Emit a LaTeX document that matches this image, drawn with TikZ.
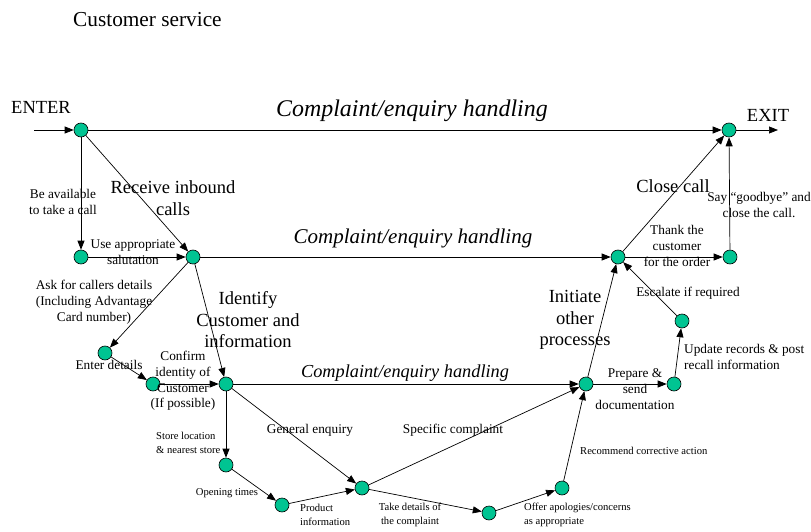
\documentclass[tikz,border=0pt]{standalone}
\usepackage{fontspec}
\setmainfont{Liberation Serif}
\usetikzlibrary{arrows.meta}
\definecolor{stepgreen}{RGB}{0,196,146}

\begin{document}
\begin{tikzpicture}[x=1pt,y=-1pt,
        pt/.style={circle,draw=black,fill=stepgreen,inner sep=0pt,minimum size=14pt,line width=0.6pt},
        flow/.style={-{Triangle[length=9pt,width=7pt]},line width=0.7pt},
        biglbl/.style={font=\fontsize{18.5}{21.5}\selectfont,align=center,inner sep=0pt},
        midlbl/.style={font=\fontsize{13.3}{15.8}\selectfont,align=center,inner sep=0pt},
        smalllbl/.style={font=\fontsize{10.6}{13.6}\selectfont,align=left,inner sep=0pt},
        handlbl/.style={font=\itshape\fontsize{#1}{#1}\selectfont,anchor=base,inner sep=0pt}]
        \useasboundingbox (0,0) rectangle (811,532);
        \node[pt] (enter) at (81,130) {};
        \node[pt] (exit) at (729,130) {};
        \node[pt] (avail) at (81,257) {};
        \node[pt] (salut) at (193,257) {};
        \node[pt] (details) at (105,353) {};
        \node[pt] (confirm) at (153,384) {};
        \node[pt] (ident) at (226,384) {};
        \node[pt] (store) at (226,465) {};
        \node[pt] (product) at (282,505) {};
        \node[pt] (general) at (362,488) {};
        \node[pt] (complaint) at (489,513) {};
        \node[pt] (apology) at (562,488) {};
        \node[pt] (other) at (586,384) {};
        \node[pt] (prepare) at (674,384) {};
        \node[pt] (update) at (682,321) {};
        \node[pt] (close) at (618,257) {};
        \node[pt] (thank) at (730,257) {};
        \coordinate (in) at (34,130);
        \coordinate (out) at (778,130);
        \draw[flow] (in) -- (enter);
        \draw[flow] (enter) -- (exit);
        \draw[flow] (exit) -- (out);
        \draw[flow] (enter) -- (avail);
        \draw[flow] (enter) -- (salut);
        \draw[flow] (avail) -- (salut);
        \draw[flow] (salut) -- (close);
        \draw[flow] (salut) -- (details);
        \draw[flow] (salut) -- (ident);
        \draw[flow] (details) -- (confirm);
        \draw[flow] (confirm) -- (ident);
        \draw[flow] (ident) -- (other);
        \draw[flow] (ident) -- (store);
        \draw[flow] (ident) -- (general);
        \draw[flow] (store) -- (product);
        \draw[flow] (product) -- (general);
        \draw[flow] (general) -- (other);
        \draw[flow] (general) -- (complaint);
        \draw[flow] (complaint) -- (apology);
        \draw[flow] (apology) -- (other);
        \draw[flow] (other) -- (close);
        \draw[flow] (other) -- (prepare);
        \draw[flow] (prepare) -- (update);
        \draw[flow] (update) -- (close);
        \draw[flow] (close) -- (thank);
        \draw[flow] (close) -- (exit);
        \draw[flow] (thank) -- (exit);
        \node[anchor=west,font=\fontsize{21.3}{25}\selectfont,inner sep=0pt] (title) at (73,20) {Customer service};
        \node[biglbl] (lenter) at (41,107) {ENTER};
        \node[biglbl] (lexit) at (768,115) {EXIT};
        \node[handlbl=23.9] (htop) at (412,117) {Complaint/enquiry handling};
        \node[handlbl=21] (hmid) at (413,243) {Complaint/enquiry handling};
        \node[handlbl=18.3] (hlow) at (405,377) {Complaint/enquiry handling};
        \node[biglbl] (lreceive) at (173,198) {Receive inbound\\calls};
        \node[biglbl] (lident) at (248,320) {Identify\\Customer and\\information};
        \node[biglbl] (linitiate) at (575,320) {Initiate\\other\\processes};
        \node[biglbl] (lclose) at (673,186) {Close call};
        \node[midlbl] (lavail) at (63,202) {Be available\\to take a call};
        \node[midlbl] (lsalut) at (133,252) {Use appropriate\\salutation};
        \node[midlbl] (lask) at (94,302) {Ask for callers details\\(Including Advantage\\Card number)};
        \node[midlbl] (ldetails) at (109,365) {Enter details};
        \node[midlbl] (lconfirm) at (183,381) {Confirm\\identity of\\Customer\\(If possible)};
        \node[midlbl] (lgeneral) at (310,430) {General enquiry};
        \node[midlbl] (lspecific) at (453,430) {Specific complaint};
        \node[midlbl] (lprepare) at (635,389) {Prepare \&\\send\\documentation};
        \node[midlbl,anchor=west,align=left] (lupdate) at (684,357) {Update records \& post\\recall information};
        \node[midlbl] (lescalate) at (688,293) {Escalate if required};
        \node[midlbl] (lthank) at (677,246) {Thank the\\customer\\for the order};
        \node[midlbl] (lbye) at (759,205) {Say “goodbye” and\\close the call.};
        \node[smalllbl,anchor=west] (lstore) at (156,443) {Store location\\\& nearest store};
        \node[smalllbl] (lopen) at (227,493) {Opening times};
        \node[smalllbl,anchor=west] (lproduct) at (300,515) {Product\\information};
        \node[smalllbl,align=center] (ltake) at (410,515) {Take details of\\the complaint};
        \node[smalllbl,anchor=west] (loffer) at (524,515) {Offer apologies/concerns\\as appropriate};
        \node[smalllbl,anchor=west] (lrecommend) at (580,451) {Recommend corrective action};
    \end{tikzpicture}
\end{document}
